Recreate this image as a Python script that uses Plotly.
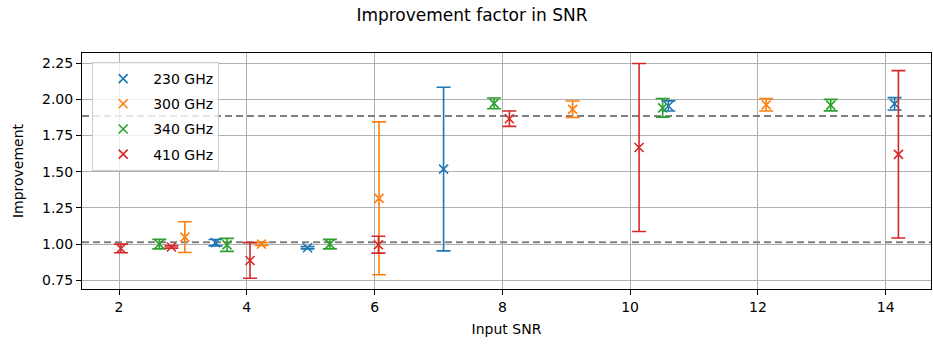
import plotly.graph_objects as go

# ---- data ----
labels = ["230 GHz", "300 GHz", "340 GHz", "410 GHz"]
colors = ["#1f77b4", "#ff7f0e", "#2ca02c", "#d62728"]

snr_230 = [3.51, 4.95, 7.08, 10.60, 14.14]
imp_230 = [1.01, 0.975, 1.518, 1.954, 1.969]
err_230 = [0.022, 0.008, 0.565, 0.035, 0.043]

snr_300 = [3.03, 4.23, 6.07, 9.10, 12.13]
imp_300 = [1.048, 1.0, 1.316, 1.931, 1.962]
err_300 = [0.106, 0.010, 0.528, 0.057, 0.043]

snr_340 = [2.63, 3.69, 5.30, 7.87, 10.51, 13.14]
imp_340 = [1.0, 0.995, 1.0, 1.972, 1.941, 1.96]
err_340 = [0.033, 0.045, 0.033, 0.037, 0.064, 0.04]

snr_410 = [2.03, 2.82, 4.05, 6.06, 8.11, 10.14, 14.20]
imp_410 = [0.97, 0.98, 0.887, 0.996, 1.866, 1.667, 1.62]
err_410 = [0.03, 0.008, 0.123, 0.058, 0.053, 0.58, 0.578]

ref_levels = [1.885, 1.013]

x_ticks = [2, 4, 6, 8, 10, 12, 14]
y_ticks = [0.75, 1.00, 1.25, 1.50, 1.75, 2.00, 2.25]

series = [
    (snr_230, imp_230, err_230),
    (snr_300, imp_300, err_300),
    (snr_340, imp_340, err_340),
    (snr_410, imp_410, err_410),
]

fig = go.Figure()

x_range = [1.42, 14.71]

for lvl in ref_levels:
    fig.add_trace(go.Scatter(
        x=x_range, y=[lvl, lvl], mode="lines",
        line=dict(color="gray", width=2, dash="7px,4px"),
        showlegend=False, hoverinfo="skip",
    ))

for (xs, ys, es), lab, col in zip(series, labels, colors):
    fig.add_trace(go.Scatter(
        x=xs, y=ys, mode="markers", name=lab, legendgroup=lab,
        marker=dict(symbol="x-thin", size=9, color=col,
                    line=dict(color=col, width=1.6)),
        error_y=dict(type="data", array=es, visible=True,
                     color=col, thickness=1.6, width=7),
    ))

font = "DejaVu Sans, Arial, sans-serif"

fig.update_layout(
    width=933, height=350,
    margin=dict(l=82, r=2, t=53, b=61),
    paper_bgcolor="white", plot_bgcolor="white",
    font=dict(family=font, size=14, color="black"),
    title=dict(text="Improvement factor in SNR", x=472/933, xanchor="center",
               xref="container", y=1 - 15/350, yref="container",
               yanchor="middle", font=dict(size=17, family=font)),
    showlegend=True,
    legend=dict(x=0.012, y=0.962, xanchor="left", yanchor="top",
                bgcolor="rgba(255,255,255,0.8)", bordercolor="#cccccc",
                borderwidth=1, font=dict(size=14, family=font),
                tracegroupgap=4, itemwidth=50),
)

fig.update_xaxes(
    range=x_range, tickmode="array", tickvals=x_ticks,
    showgrid=True, gridcolor="#b0b0b0", gridwidth=1,
    showline=True, linecolor="black", linewidth=1, mirror=True,
    ticks="outside", ticklen=5, tickcolor="black", zeroline=False,
    title=dict(text="Input SNR", font=dict(size=14, family=font), standoff=10),
)
fig.update_yaxes(
    range=[0.69, 2.32], tickmode="array", tickvals=y_ticks,
    tickformat=".2f",
    showgrid=True, gridcolor="#b0b0b0", gridwidth=1,
    showline=True, linecolor="black", linewidth=1, mirror=True,
    ticks="outside", ticklen=5, tickcolor="black", zeroline=False,
    title=dict(text="Improvement", font=dict(size=14, family=font), standoff=15),
)

fig.write_html("out.html")
